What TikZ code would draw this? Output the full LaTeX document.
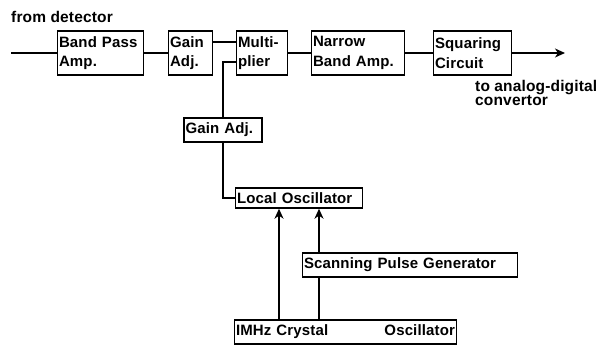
\documentclass[tikz,border=0pt]{standalone}
\usepackage{fontspec}
\setmainfont{Liberation Sans}[LetterSpace=1]
\usetikzlibrary{arrows.meta,positioning}

\begin{document}
\begin{tikzpicture}[x=1pt,y=-1pt,
  blk/.style={draw,line width=1.4pt,inner xsep=1.5pt,inner ysep=2.5pt,align=left,
    font=\fontsize{15}{19.5}\selectfont\bfseries},
  wire/.style={line width=1.4pt},
  arrow/.style={wire,-{Stealth[length=10pt,width=9pt,inset=3pt]}}
]
  \useasboundingbox (0,0) rectangle (612,345);
  % signal path, top row
  \node[blk,text width=83pt,minimum height=44pt] (bp) at (100.5,53) {Band Pass\\Amp.};
  \node[blk,text width=41pt,minimum height=44pt] (ga) at (190.5,53) {Gain\\Adj.};
  \node[blk,text width=48pt,minimum height=44pt] (mul) at (262,53) {Multi-\\plier};
  \node[blk,text width=90pt,minimum height=44pt] (nba) at (358,53) {Narrow\\Band Amp.};
  \node[blk,text width=75pt,minimum height=44pt] (sq) at (472.5,53) {Squaring\\Circuit};
  % reference branch
  \node[blk,text width=75pt,minimum height=24pt] (ga2) at (223,130) {Gain Adj.};
  \node[blk,text width=124pt,minimum height=20pt,inner ysep=1pt] (lo) at (299,198) {Local Oscillator};
  \node[blk,text width=212pt,minimum height=24pt] (spg) at (410,265) {Scanning Pulse Generator};
  \node[blk,text width=219pt,minimum height=24pt] (xo) at (345.5,332) {IMHz Crystal\hfill Oscillator};
  % labels
  \node[anchor=south west,inner sep=0pt,font=\fontsize{15.5}{17}\selectfont\bfseries] (src) at (11,23) {from detector};
  \node[anchor=north west,inner sep=0pt,align=left,font=\fontsize{15.5}{13}\selectfont\bfseries] (dst) at (475,80) {to analog-digital\\convertor};
  \coordinate (in) at (11,53);
  \coordinate (out) at (565,53);
  % connections
  \draw[wire] (in) -- (bp.west);
  \draw[wire] (bp.east) -- (ga.west);
  \draw[wire] ([yshift=11pt]ga.east) -- ([yshift=11pt]mul.west);
  \draw[wire] (mul.east) -- (nba.west);
  \draw[wire] (nba.east) -- (sq.west);
  \draw[arrow] (sq.east) -- (out);
  \draw[wire] (ga2.north) |- ([yshift=-9pt]mul.west);
  \draw[wire] (ga2.south) |- (lo.west);
  \draw[arrow] ([xshift=-20pt]lo.south |- xo.north) -- ([xshift=-20pt]lo.south);
  \draw[arrow] ([xshift=20pt]lo.south |- spg.north) -- ([xshift=20pt]lo.south);
  \draw[wire] ([xshift=20pt]lo.south |- xo.north) -- ([xshift=20pt]lo.south |- spg.south);
\end{tikzpicture}
\end{document}
